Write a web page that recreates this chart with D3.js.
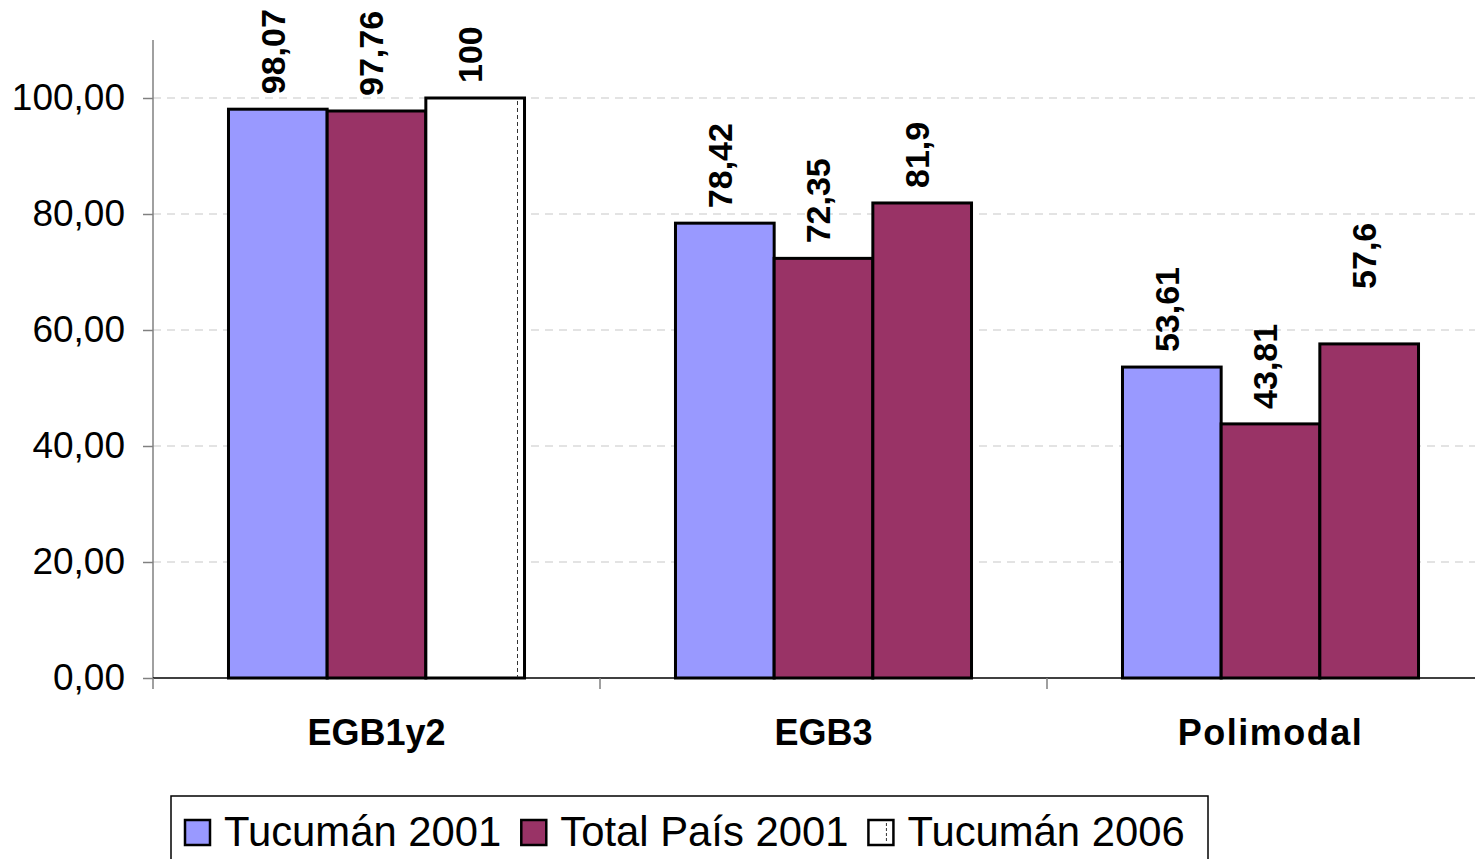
<!DOCTYPE html>
<html>
<head>
<meta charset="utf-8">
<script src="https://cdnjs.cloudflare.com/ajax/libs/d3/7.8.5/d3.min.js"></script>
<style>
  html, body { margin: 0; padding: 0; background: #fff; overflow: hidden; }
  svg { display: block; font-family: "Liberation Sans", Arial, sans-serif; }
</style>
</head>
<body>
<svg id="chart" width="1475" height="859"></svg>
<script>
const categories = ["EGB1y2", "EGB3", "Polimodal"];
const seriesNames = ["Tucumán 2001", "Total País 2001", "Tucumán 2006"];
const tucuman2001 = [98.07, 78.42, 53.61];
const totalPais2001 = [97.76, 72.35, 43.81];
const tucuman2006 = [100, 81.9, 57.6];
const labelText = [
  ["98,07", "78,42", "53,61"],
  ["97,76", "72,35", "43,81"],
  ["100", "81,9", "57,6"]
];
const yTicks = [0, 20, 40, 60, 80, 100];

const seriesColors = ["#9999FF", "#993366", "#FFFFFF"];
// per-point fill of the third series as drawn in the reference
const tucuman2006Fills = ["#FFFFFF", "#993366", "#993366"];
// extra lift (px) of individual data labels, as placed in the reference
const labelLift = [[0, 0, 0], [0, 0, 0], [0, 0, 40]];

const values = [tucuman2001, totalPais2001, tucuman2006];
const svg = d3.select("#chart");

const pLeft = 153, pRight = 1494, pTop = 40, pBottom = 678;
const y = d3.scaleLinear().domain([0, 110]).range([pBottom, pTop]);
const x0 = d3.scaleBand().domain(categories).range([pLeft, pRight]).padding(0);
const x1 = d3.scaleBand().domain(d3.range(seriesNames.length))
  .range([0, x0.bandwidth()]).paddingInner(0).paddingOuter(0.765);

// gridlines
svg.append("g").selectAll("line").data(yTicks.filter(d => d > 0)).join("line")
  .attr("x1", pLeft).attr("x2", pRight)
  .attr("y1", d => y(d)).attr("y2", d => y(d))
  .attr("stroke", "#c8c8c8").attr("stroke-width", 1.2)
  .attr("stroke-dasharray", "8,6");

// y axis
const yAxis = d3.axisLeft(y).tickValues(yTicks).tickSize(10).tickPadding(18)
  .tickFormat(d => d3.format(".2f")(d).replace(".", ","));
const gy = svg.append("g").attr("transform", `translate(${pLeft},0)`).call(yAxis);
gy.select(".domain").attr("stroke", "#808080").attr("stroke-width", 1.5).attr("d", `M0,${pTop}V${pBottom}`);
gy.selectAll(".tick line").attr("stroke", "#808080").attr("stroke-width", 1.5);
gy.selectAll(".tick text").attr("font-size", 37).attr("fill", "#000")
  .attr("dy", "0.3em")
  .attr("font-family", "Liberation Sans, Arial, sans-serif");

// bars
const groups = svg.append("g").selectAll("g").data(categories).join("g")
  .attr("transform", c => `translate(${x0(c)},0)`);

groups.each(function(c, ci) {
  const g = d3.select(this);
  values.forEach((arr, si) => {
    const v = arr[ci];
    const fill = si === 2 ? tucuman2006Fills[ci] : seriesColors[si];
    const bx = x1(si), bw = x1.bandwidth();
    g.append("rect")
      .attr("x", bx).attr("y", y(v))
      .attr("width", bw).attr("height", y(0) - y(v))
      .attr("fill", fill).attr("stroke", "#000").attr("stroke-width", 3);
    if (fill === "#FFFFFF") {
      g.append("line")
        .attr("x1", bx + bw - 7).attr("x2", bx + bw - 7)
        .attr("y1", y(v) + 3).attr("y2", y(0))
        .attr("stroke", "#333").attr("stroke-width", 1)
        .attr("stroke-dasharray", "4,3");
    }
    const cx = bx + bw / 2 - 5, ty = y(v) - 15 - labelLift[si][ci];
    g.append("text")
      .attr("transform", `translate(${cx},${ty}) rotate(-90)`)
      .attr("text-anchor", "start")
      .attr("font-size", 34).attr("font-weight", "bold").attr("fill", "#000")
      .attr("dy", "0.35em")
      .text(labelText[si][ci]);
  });
});

// x axis
svg.append("line").attr("x1", pLeft).attr("x2", pRight)
  .attr("y1", pBottom).attr("y2", pBottom)
  .attr("stroke", "#000").attr("stroke-width", 1.5);
svg.append("g").selectAll("line").data(d3.range(categories.length + 1)).join("line")
  .attr("x1", i => pLeft + i * x0.step()).attr("x2", i => pLeft + i * x0.step())
  .attr("y1", pBottom).attr("y2", pBottom + 11)
  .attr("stroke", "#808080").attr("stroke-width", 1.5);
svg.append("g").selectAll("text").data(categories).join("text")
  .attr("x", c => x0(c) + x0.bandwidth() / 2).attr("y", 745)
  .attr("text-anchor", "middle").attr("font-size", 36).attr("font-weight", "bold")
  .attr("letter-spacing", c => c === "Polimodal" ? 1.5 : 0)
  .text(c => c);

// legend
const lg = svg.append("g");
lg.append("rect").attr("x", 171).attr("y", 796).attr("width", 1037).attr("height", 80)
  .attr("fill", "#fff").attr("stroke", "#000").attr("stroke-width", 1.5);
let lx = 185;
seriesNames.forEach((name, i) => {
  lg.append("rect").attr("x", lx).attr("y", 820).attr("width", 25).attr("height", 25)
    .attr("fill", seriesColors[i]).attr("stroke", "#000").attr("stroke-width", 2.5);
  if (i === 2) {
    lg.append("line").attr("x1", lx + 18).attr("x2", lx + 18).attr("y1", 823).attr("y2", 843)
      .attr("stroke", "#333").attr("stroke-width", 1).attr("stroke-dasharray", "3,2");
  }
  const t = lg.append("text").attr("x", lx + 39).attr("y", 846)
    .attr("font-size", 41.8).attr("fill", "#000").text(name);
  lx += 39 + t.node().getComputedTextLength() + 20;
});
</script>
</body>
</html>
